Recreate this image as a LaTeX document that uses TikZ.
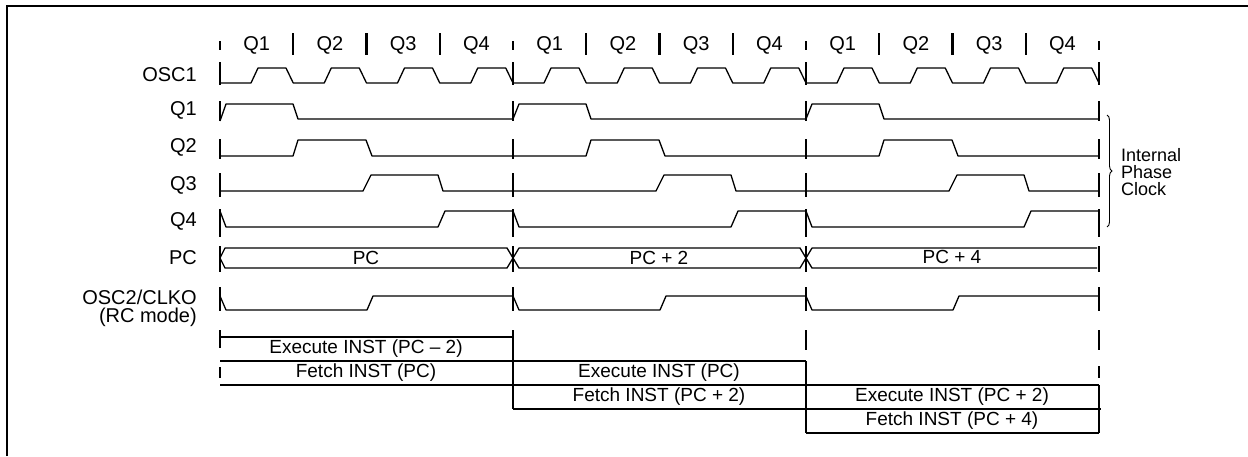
\documentclass[tikz,border=0pt]{standalone}
\usepackage{fontspec}
\setmainfont{Liberation Sans}
\usetikzlibrary{decorations.pathreplacing}
\begin{document}
\begin{tikzpicture}[x=1pt,y=-1pt,
  wave/.style={line width=1.3pt, line join=round},
  tickln/.style={line width=2.6pt},
  boxline/.style={line width=2.4pt},
  lbl/.style={font=\fontsize{20}{20}\selectfont, inner sep=0pt},
  sig/.style={lbl, anchor=east},
  cell/.style={font=\fontsize{19}{19}\selectfont, inner sep=0pt}]
\useasboundingbox (0,0) rectangle (1248,456);
% frame (top and left visible)
\draw[line width=2.6pt] (7,456) -- (7,6) -- (1248,6);

% quarter labels and separators
\foreach \k [count=\i from 0] in {1,2,3,4,1,2,3,4,1,2,3,4}
  \node[lbl] (qlab\i) at ({220+36.6+73.25*\i},45) {Q\k};
\foreach \j in {1,2,3,5,6,7,9,10,11}
  \draw[line width=2.4pt] ({220+73.25*\j},33) -- ({220+73.25*\j},55);

% dashed cycle boundaries (row ticks)
\foreach \x in {220,513,806,1099}
  \foreach \a/\b in {41/50,62/85,101/121,139/159,173/197,209/237,246/272,287/311}
    \draw[tickln] (\x,\a) -- (\x,\b);
\draw[tickln] (220,330) -- (220,348);
\draw[tickln] (220,367) -- (220,378);
\draw[tickln] (806,330) -- (806,350);
\draw[tickln] (1099,330) -- (1099,350);
\draw[tickln] (1099,366) -- (1099,378);

% signal labels
\node[sig] (lo1) at (197,75) {OSC1};
\node[sig] (lq1) at (197,110) {Q1};
\node[sig] (lq2) at (197,147) {Q2};
\node[sig] (lq3) at (197,185) {Q3};
\node[sig] (lq4) at (197,221) {Q4};
\node[sig] (lpc) at (197,258) {PC};
\node[sig] (lo2) at (197,297) {OSC2/CLKO};
\node[sig] (lrc) at (197,317) {(RC mode)};

% OSC1
\draw[wave] (220,83) foreach \k in {0,...,11} {
  -- ({220+73.25*\k+31},83) -- ({220+73.25*\k+38},68)
  -- ({220+73.25*\k+66},68) -- ({220+73.25*\k+73.25},83) };
% Q1
\draw[wave] (220,121) foreach \c in {220,513,806} {
  -- ({\c+6},104) -- ({\c+73},104) -- ({\c+78},119) -- ({\c+293},119) };
% Q2
\draw[wave] (220,156) foreach \c in {220,513,806} {
  -- ({\c+73},156) -- ({\c+78},140) -- ({\c+146},140) -- ({\c+152},156) -- ({\c+293},156) };
% Q3
\draw[wave] (220,191) foreach \c in {220,513,806} {
  -- ({\c+143},191) -- ({\c+151},175) -- ({\c+218},175) -- ({\c+223},191) -- ({\c+293},191) };
% Q4
\draw[wave] (220,211) foreach \c in {220,513,806} {
  -- ({\c+6},227) -- ({\c+218},227) -- ({\c+225},211) -- ({\c+293},211) };
% OSC2/CLKO
\draw[wave] (220,296) foreach \c in {220,513,806} {
  -- ({\c+6},310) -- ({\c+147},310) -- ({\c+153},296) -- ({\c+293},296) };

% PC bus
\draw[wave] (220,258) -- (225,248) -- (507,248) -- (513,258) -- (507,268) -- (225,268) -- cycle;
\draw[wave] (513,258) -- (519,248) -- (800,248) -- (806,258) -- (800,268) -- (519,268) -- cycle;
\draw[wave] (1097,248) -- (812,248) -- (806,258) -- (812,268) -- (1097,268);
\node[cell] (pc0) at (366,258) {PC};
\node[cell] (pc2) at (659,258) {PC + 2};
\node[cell] (pc4) at (952,257) {PC + 4};

% brace
\draw[line width=0.9pt, decorate, decoration={brace, amplitude=5pt}] (1107,115) -- (1107,227);
\node[anchor=west, align=left, inner sep=0pt, font=\fontsize{18}{17}\selectfont] (ipc) at (1121,172) {Internal\\Phase\\Clock};

% instruction pipeline boxes
\draw[boxline] (220,337) -- (513,337);
\draw[boxline] (220,361) -- (806,361);
\draw[boxline] (220,385) -- (1099,385);
\draw[boxline] (513,409) -- (1101,409);
\draw[boxline] (806,433) -- (1099,433);
\draw[boxline] (513,330) -- (513,409);
\draw[boxline] (806,361) -- (806,433);
\draw[boxline] (1099,385) -- (1099,433);
\node[cell] (ex1) at (366,349) {Execute INST (PC \textendash{} 2)};
\node[cell] (fe1) at (366,373) {Fetch INST (PC)};
\node[cell] (ex2) at (659,373) {Execute INST (PC)};
\node[cell] (fe2) at (659,397) {Fetch INST (PC + 2)};
\node[cell] (ex3) at (952,397) {Execute INST (PC + 2)};
\node[cell] (fe3) at (952,421) {Fetch INST (PC + 4)};
\end{tikzpicture}
\end{document}
